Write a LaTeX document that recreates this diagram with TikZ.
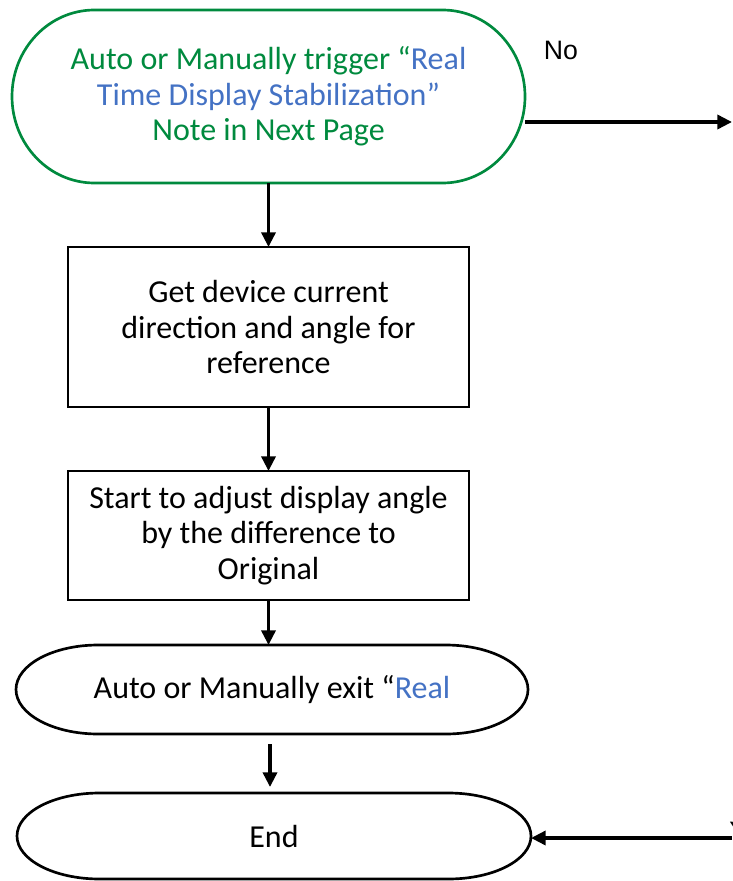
\documentclass[tikz,border=0pt]{standalone}
\usepackage{fontspec}
\setmainfont{Carlito}
\newfontfamily\labelfont{Liberation Sans}
\usetikzlibrary{calc,arrows.meta,positioning}
\definecolor{stabgreen}{RGB}{0,138,62}
\definecolor{stabblue}{RGB}{68,114,196}
% terminator outline round a plain node
\newcommand{\drawterm}[2]{%
  \draw[#2, line width=2pt] let \p1=(#1.north west), \p2=(#1.south east),
      \n1={0.1607*(\x2-\x1)}, \n2={0.5*(\y1-\y2)} in
    (\x1+\n1,\y1) -- (\x2-\n1,\y1)
    arc[start angle=90, end angle=-90, x radius=\n1, y radius=\n2]
    -- (\x1+\n1,\y2)
    arc[start angle=270, end angle=90, x radius=\n1, y radius=\n2] -- cycle;}

\begin{document}
\begin{tikzpicture}[x=0.75pt, y=-0.75pt,
      font=\fontsize{24}{26.6}\selectfont,
      term/.style={align=center, outer sep=0pt, inner sep=0pt},
      box/.style={draw, line width=2pt, align=center, outer sep=0pt, minimum width=300.75pt},
      arr/.style={-{Triangle[length=11pt, width=10.5pt]}, line width=2.6pt},
      lbl/.style={font=\labelfont\fontsize{20}{24}\selectfont, inner sep=0pt}]
    \useasboundingbox (0,0) rectangle (732,881);
    \node[term, text=stabgreen, minimum width=384.75pt, minimum height=129.75pt] (trig) at (268.5,96.5)
      {Auto or Manually trigger “\textcolor{stabblue}{Real}\\\textcolor{stabblue}{Time Display Stabilization”}\\Note in Next Page};
    \node[box, minimum height=120pt] (get) at (268.5,327) {Get device current\\direction and angle for\\reference};
    \node[box, minimum height=96.75pt] (adj) at (268.5,535.5) {Start to adjust display angle\\by the difference to\\Original};
    \node[term, minimum width=384pt, minimum height=66.75pt] (exit) at (272,689.5) {Auto or Manually exit “\textcolor{stabblue}{Real}};
    \node[term, minimum width=385.5pt, minimum height=64.5pt] (end) at (274,836) {End};
    \drawterm{trig}{stabgreen}
    \drawterm{exit}{black}
    \drawterm{end}{black}
    \node[lbl] (no) at (561,50) {No};
    \node[lbl, anchor=north west] (yes) at (729,822) {Yes};
    \coordinate (noout) at (732,122);
    \coordinate (yesin) at (732,838);
    \draw[arr] (trig.south) -- (get.north);
    \draw[arr] (get.south) -- (adj.north);
    \draw[arr] (adj.south) -- (adj.south |- exit.north);
    \draw[arr, shorten <=7.5pt, shorten >=4.5pt] ([xshift=-1.5pt]exit.south) -- ([xshift=-1.5pt]exit.south |- end.north);
    \draw[arr] (trig.east |- noout) -- (noout);
    \draw[arr] (yesin) -- (end.east |- yesin);
  \end{tikzpicture}
\end{document}
